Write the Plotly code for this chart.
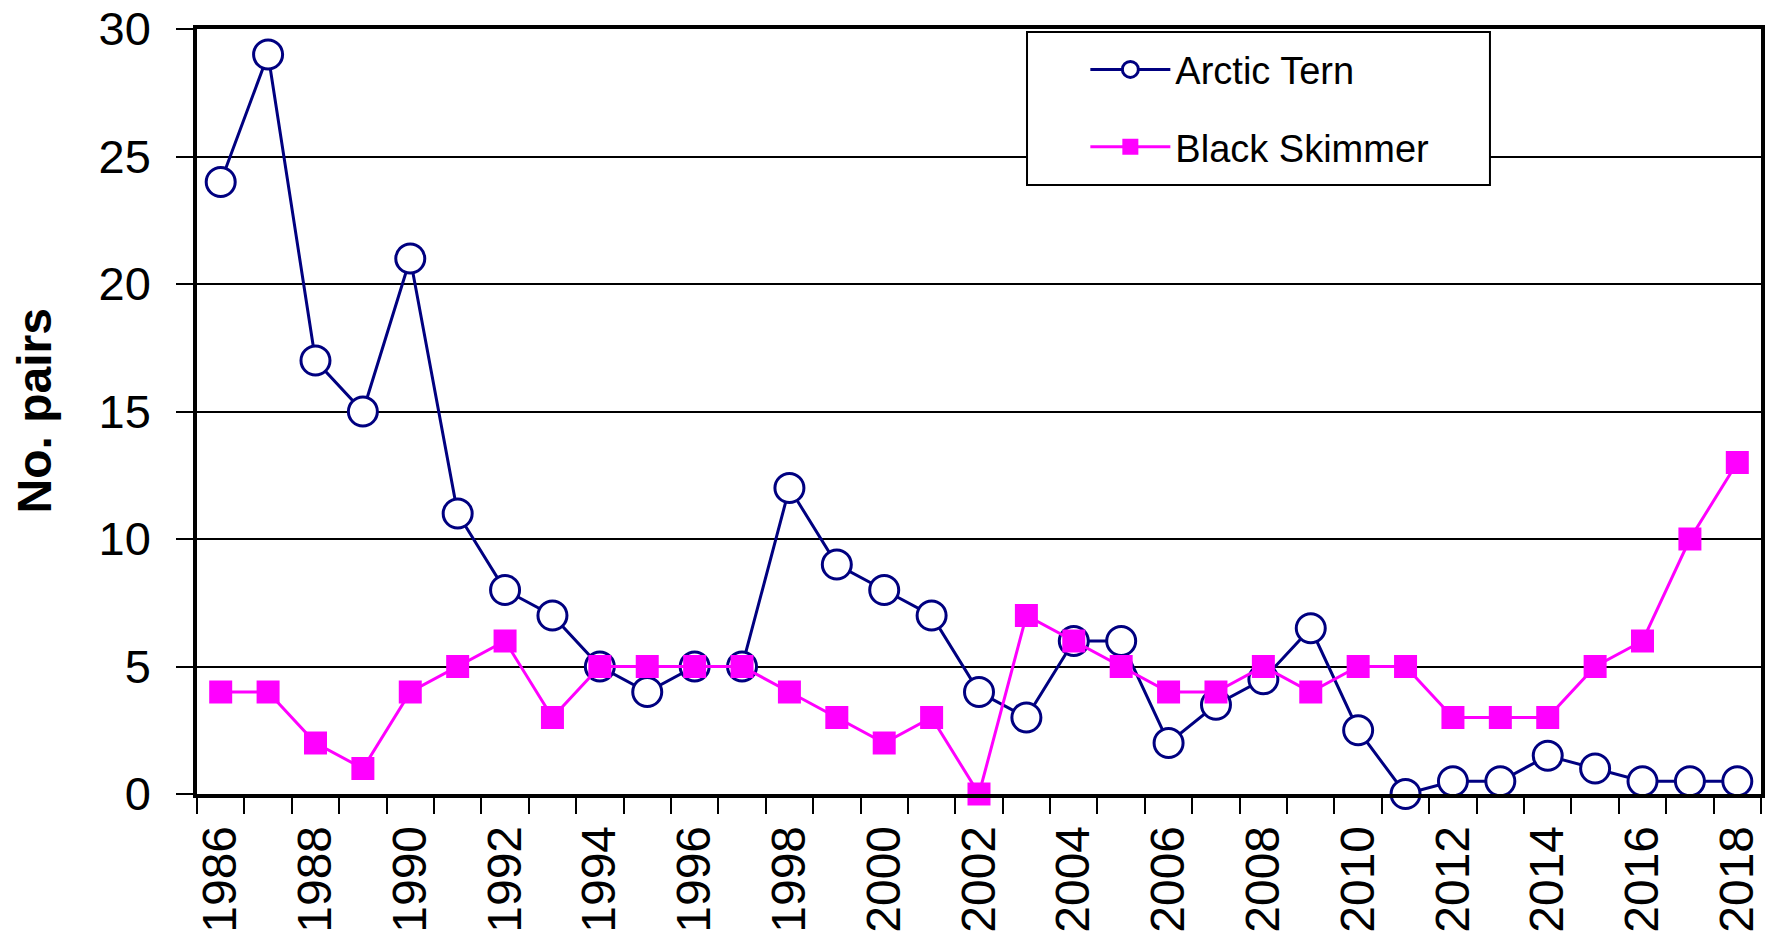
import plotly.graph_objects as go

# --- data ---
years = [str(y) for y in range(1986, 2019)]
arctic_tern = [24, 29, 17, 15, 21, 11, 8, 7, 5, 4, 5, 5, 12, 9, 8, 7, 4, 3, 6, 6,
               2, 3.5, 4.5, 6.5, 2.5, 0, 0.5, 0.5, 1.5, 1, 0.5, 0.5, 0.5]
black_skimmer = [4, 4, 2, 1, 4, 5, 6, 3, 5, 5, 5, 5, 4, 3, 2, 3, 0, 7, 6, 5,
                 4, 4, 5, 4, 5, 5, 3, 3, 3, 5, 6, 10, 13]
x_labels = [y if int(y) % 2 == 0 else "" for y in years]
y_ticks = [0, 5, 10, 15, 20, 25, 30]

FONT = "Liberation Sans, Arial, sans-serif"
NAVY = "#000080"
MAGENTA = "#FF00FF"

fig = go.Figure()

fig.add_trace(
    go.Scatter(
        x=years,
        y=arctic_tern,
        mode="lines+markers",
        name="Arctic Tern",
        legendgroup="a",
        line=dict(color=NAVY, width=3),
        marker=dict(symbol="circle", size=29, color="white",
                    line=dict(color=NAVY, width=3)),
        cliponaxis=False,
    )
)

fig.add_trace(
    go.Scatter(
        x=years,
        y=black_skimmer,
        mode="lines+markers",
        name="Black Skimmer",
        legendgroup="b",
        line=dict(color=MAGENTA, width=3),
        marker=dict(symbol="square", size=23, color=MAGENTA),
        cliponaxis=False,
    )
)

# legend frame (Excel-style box)
fig.add_shape(
    type="rect", xref="paper", yref="paper",
    x0=0.5307, x1=0.8267, y0=0.796, y1=0.996,
    line=dict(color="black", width=2), fillcolor="white", layer="above",
)

fig.add_annotation(
    text="<b>No. pairs</b>", xref="paper", yref="paper",
    x=0, y=0.5, xanchor="center", yanchor="middle", xshift=-163,
    textangle=-90, showarrow=False,
    font=dict(family=FONT, size=48, color="black"),
)

fig.update_layout(
    width=1768,
    height=939,
    autosize=False,
    margin=dict(l=197, r=7, t=29, b=145, autoexpand=False),
    paper_bgcolor="white",
    plot_bgcolor="white",
    font=dict(family=FONT, color="black"),
    showlegend=True,
    legend=dict(
        x=0.568, y=0.988, xanchor="left", yanchor="top",
        bgcolor="rgba(0,0,0,0)", borderwidth=0,
        font=dict(family=FONT, size=38, color="black"),
        traceorder="grouped", tracegroupgap=25, itemwidth=80,
    ),
)

fig.update_xaxes(
    type="category",
    tickmode="array",
    tickvals=years,
    ticktext=x_labels,
    tickson="boundaries",
    tickangle=-90,
    ticks="outside",
    ticklen=16,
    tickwidth=2,
    tickcolor="black",
    ticklabelstandoff=9,
    tickfont=dict(family=FONT, size=48, color="black"),
    showline=True,
    linecolor="black",
    linewidth=3.5,
    mirror=True,
    showgrid=False,
    zeroline=False,
    range=[-0.5, len(years) - 0.5],
)

fig.update_yaxes(
    range=[0, 30],
    tickmode="array",
    tickvals=y_ticks,
    ticks="outside",
    ticklen=17,
    tickwidth=1.5,
    tickcolor="black",
    ticklabelstandoff=16,
    ticklabeloverflow="allow",
    tickfont=dict(family=FONT, size=47, color="black"),
    showline=True,
    linecolor="black",
    linewidth=3.5,
    mirror=True,
    showgrid=True,
    gridcolor="black",
    gridwidth=1.5,
    zeroline=False,
)

# drop the browser's default body margin so the figure fills the window
fig.write_html(
    "out.html",
    config={"displayModeBar": False},
    post_script="document.body.style.margin='0';document.body.style.overflow='hidden';",
)
